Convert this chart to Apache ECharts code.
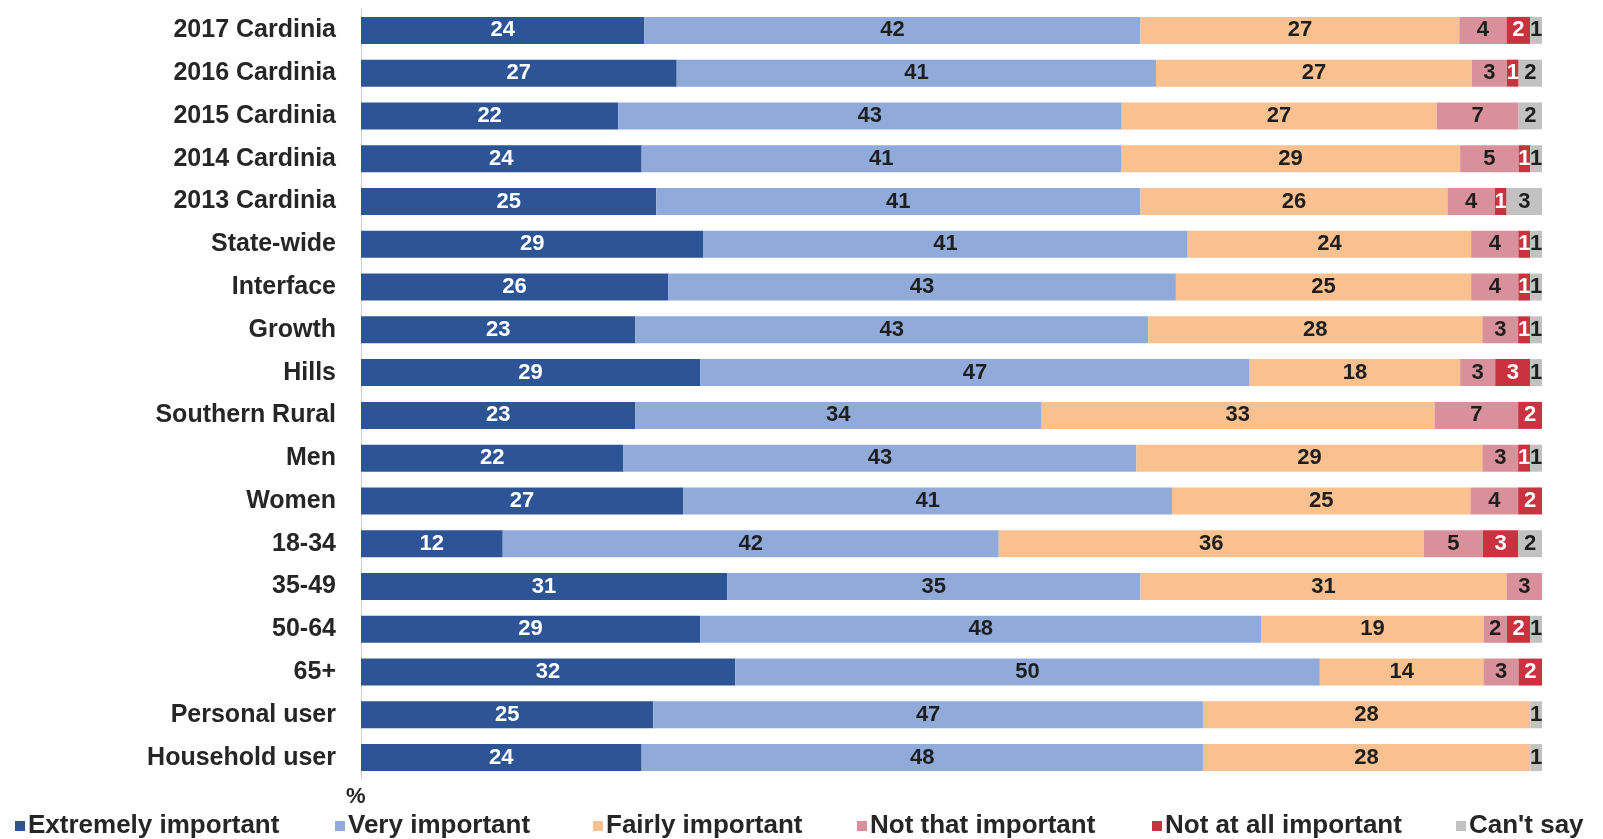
<!DOCTYPE html>
<html>
<head>
<meta charset="utf-8">
<script src="https://cdn.jsdelivr.net/npm/echarts@6/dist/echarts.min.js"></script>
<style>
  html, body { margin: 0; padding: 0; background: #ffffff; }
  #chart { width: 1603px; height: 839px; }
</style>
</head>
<body>
<div id="chart"></div>
<script>
// Importance ratings by group (%), each row shown as a 100% stacked bar
const categories = [
  '2017 Cardinia', '2016 Cardinia', '2015 Cardinia', '2014 Cardinia', '2013 Cardinia',
  'State-wide', 'Interface', 'Growth', 'Hills', 'Southern Rural',
  'Men', 'Women', '18-34', '35-49', '50-64', '65+', 'Personal user', 'Household user'
];
const seriesNames = ['Extremely important', 'Very important', 'Fairly important',
  'Not that important', 'Not at all important', "Can't say"];

const extremelyImportant = [24, 27, 22, 24, 25, 29, 26, 23, 29, 23, 22, 27, 12, 31, 29, 32, 25, 24];
const veryImportant      = [42, 41, 43, 41, 41, 41, 43, 43, 47, 34, 43, 41, 42, 35, 48, 50, 47, 48];
const fairlyImportant    = [27, 27, 27, 29, 26, 24, 25, 28, 18, 33, 29, 25, 36, 31, 19, 14, 28, 28];
const notThatImportant   = [4, 3, 7, 5, 4, 4, 4, 3, 3, 7, 3, 4, 5, 3, 2, 3, 0, 0];
const notAtAllImportant  = [2, 1, 0, 1, 1, 1, 1, 1, 3, 2, 1, 2, 3, 0, 2, 2, 0, 0];
const cantSay            = [1, 2, 2, 1, 3, 1, 1, 1, 1, 0, 1, 0, 2, 0, 1, 0, 1, 1];

const allSeries = [extremelyImportant, veryImportant, fairlyImportant,
  notThatImportant, notAtAllImportant, cantSay];
const colors = ['#2d5596', '#90abda', '#f9c090', '#d8919a', '#c9323e', '#c2c2c2'];
const labelColors = ['#ffffff', '#1e1e1e', '#1e1e1e', '#1e1e1e', '#ffffff', '#1e1e1e'];

// Left edge of each legend entry along the bottom row
const legendLefts = [15, 335, 593, 857, 1152, 1456];

// Row totals, so that each bar spans the full width
const totals = categories.map((_, i) => allSeries.reduce((s, arr) => s + arr[i], 0));

const FONT = '"Liberation Sans", Arial, sans-serif';

const series = allSeries.map((arr, k) => ({
  name: seriesNames[k],
  type: 'bar',
  stack: 'total',
  barWidth: 27,
  itemStyle: { color: colors[k] },
  label: {
    show: true,
    position: 'inside',
    color: labelColors[k],
    fontFamily: FONT,
    fontWeight: 'bold',
    fontSize: 22,
    formatter: p => (arr[p.dataIndex] ? String(arr[p.dataIndex]) : '')
  },
  data: arr.map((v, i) => v / totals[i] * 100)
}));

const legends = seriesNames.map((name, k) => ({
  left: legendLefts[k],
  top: 813,
  padding: 0,
  itemWidth: 10,
  itemHeight: 10,
  icon: 'rect',
  textStyle: {
    color: '#262626',
    fontFamily: FONT,
    fontWeight: 'bold',
    fontSize: 26,
    padding: [0, 0, 0, -2]
  },
  data: [name]
}));

const chart = echarts.init(document.getElementById('chart'));
chart.setOption({
  animation: false,
  backgroundColor: '#ffffff',
  grid: { left: 361, right: 61, top: 9, height: 770 },
  xAxis: {
    type: 'value', min: 0, max: 100, show: false
  },
  yAxis: {
    type: 'category',
    data: categories,
    inverse: true,
    axisLine: { show: true, lineStyle: { color: '#d0d0d0', width: 1 } },
    axisTick: { show: false },
    axisLabel: {
      color: '#262626',
      fontFamily: FONT,
      fontWeight: 'bold',
      fontSize: 25,
      margin: 25
    }
  },
  legend: legends,
  graphic: [{
    type: 'text',
    left: 346,
    top: 786,
    style: {
      text: '%',
      fill: '#262626',
      font: 'bold 22px "Liberation Sans", Arial, sans-serif'
    }
  }],
  series: series
});
</script>
</body>
</html>
